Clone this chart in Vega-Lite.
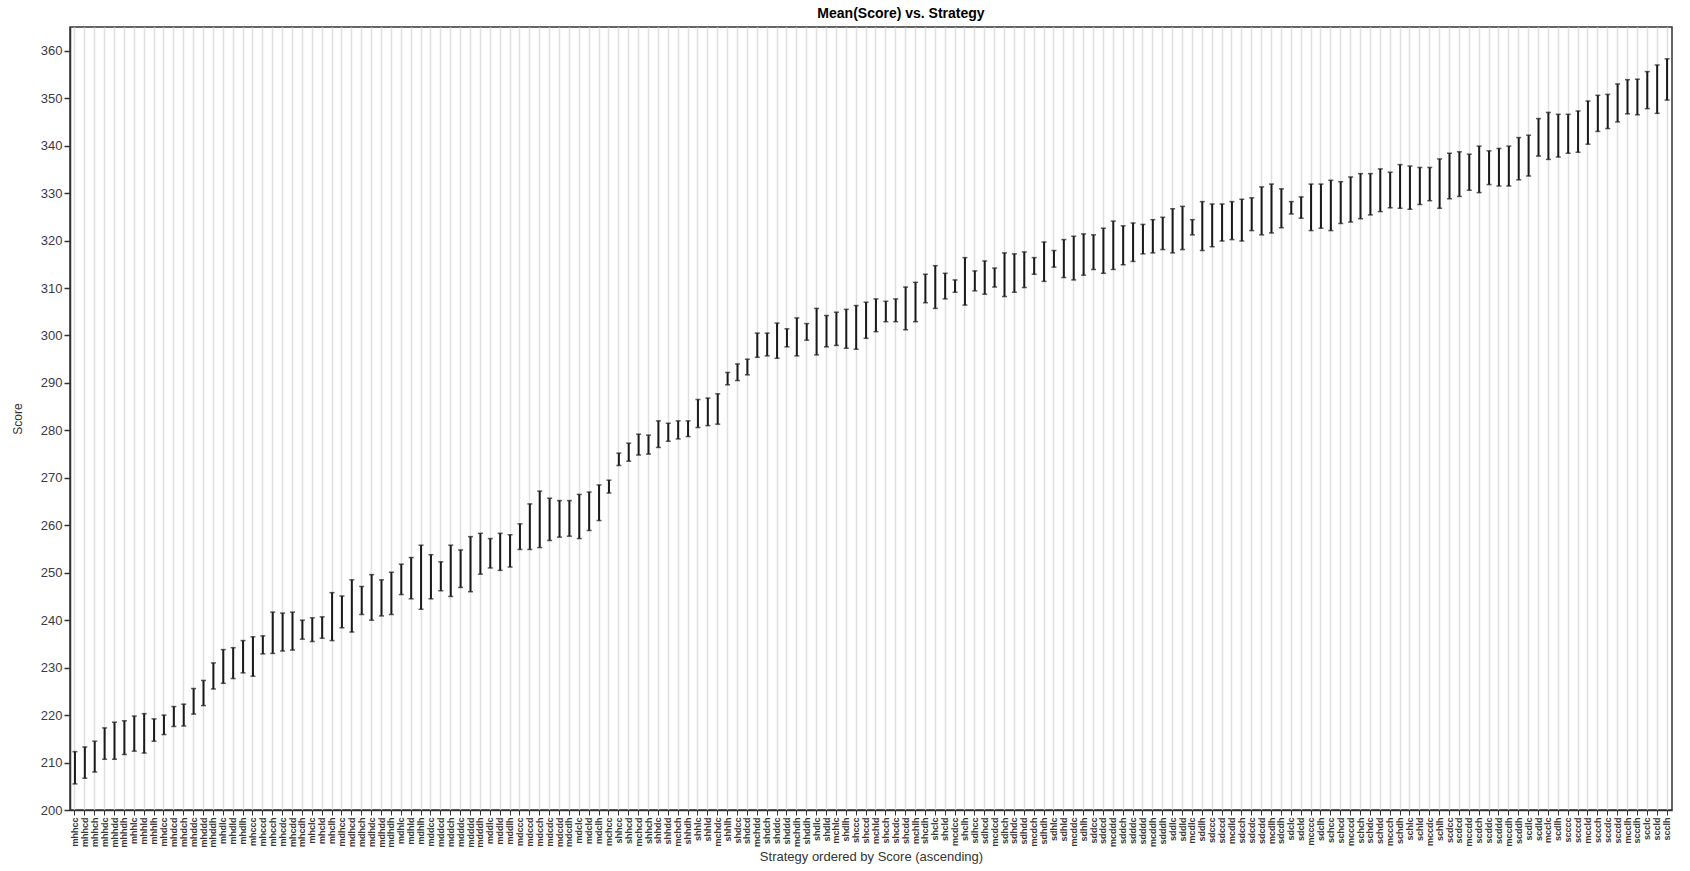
{
  "$schema": "https://vega.github.io/schema/vega-lite/v6.json",
  "width": 1602,
  "height": 783,
  "autosize": "none",
  "padding": {"left": 70, "top": 27, "right": 18, "bottom": 61},
  "background": "white",
  "title": {"text": "Mean(Score) vs. Strategy", "fontSize": 14, "fontWeight": "bold", "font": "Liberation Sans", "color": "#000000", "offset": 6, "dx": 30},
  "config": {"view": {"stroke": "#333333", "strokeWidth": 1.5}, "font": "Liberation Sans"},
  "data": {"values": [
    {"s": "mhhcc", "lo": 205.5, "hi": 212.3},
    {"s": "mhhcd", "lo": 206.7, "hi": 213.3},
    {"s": "mhhch", "lo": 208.0, "hi": 214.5},
    {"s": "mhhdc", "lo": 210.7, "hi": 217.3},
    {"s": "mhhdd", "lo": 210.7, "hi": 218.5},
    {"s": "mhhdh", "lo": 211.7, "hi": 218.8},
    {"s": "mhhlc", "lo": 212.4, "hi": 219.8},
    {"s": "mhhld", "lo": 212.0, "hi": 220.3},
    {"s": "mhhlh", "lo": 214.5, "hi": 219.2},
    {"s": "mhdcc", "lo": 215.9, "hi": 220.0},
    {"s": "mhdcd", "lo": 217.6, "hi": 221.8},
    {"s": "mhdch", "lo": 217.7, "hi": 222.3},
    {"s": "mhddc", "lo": 220.2, "hi": 225.6},
    {"s": "mhddd", "lo": 222.0, "hi": 227.3},
    {"s": "mhddh", "lo": 225.5, "hi": 231.0},
    {"s": "mhdlc", "lo": 226.7, "hi": 233.8},
    {"s": "mhdld", "lo": 227.7, "hi": 234.2},
    {"s": "mhdlh", "lo": 228.9, "hi": 235.7},
    {"s": "mhccc", "lo": 228.2, "hi": 236.5},
    {"s": "mhccd", "lo": 232.9, "hi": 236.7},
    {"s": "mhcch", "lo": 233.0, "hi": 241.7},
    {"s": "mhcdc", "lo": 233.5, "hi": 241.5},
    {"s": "mhcdd", "lo": 233.7, "hi": 241.7},
    {"s": "mhcdh", "lo": 236.0, "hi": 240.0},
    {"s": "mhclc", "lo": 235.5, "hi": 240.5},
    {"s": "mhcld", "lo": 236.2, "hi": 240.7},
    {"s": "mhclh", "lo": 235.7, "hi": 245.8},
    {"s": "mdhcc", "lo": 238.4, "hi": 245.1},
    {"s": "mdhcd", "lo": 237.5, "hi": 248.5},
    {"s": "mdhch", "lo": 241.2, "hi": 247.1},
    {"s": "mdhdc", "lo": 240.0, "hi": 249.6},
    {"s": "mdhdd", "lo": 240.9, "hi": 248.5},
    {"s": "mdhdh", "lo": 241.2, "hi": 250.1},
    {"s": "mdhlc", "lo": 245.4, "hi": 251.8},
    {"s": "mdhld", "lo": 244.5, "hi": 253.2},
    {"s": "mdhlh", "lo": 242.3, "hi": 255.8},
    {"s": "mddcc", "lo": 244.5, "hi": 253.8},
    {"s": "mddcd", "lo": 246.2, "hi": 252.3},
    {"s": "mddch", "lo": 245.0, "hi": 255.8},
    {"s": "mdddc", "lo": 246.9, "hi": 254.8},
    {"s": "mdddd", "lo": 246.0, "hi": 257.6},
    {"s": "mdddh", "lo": 249.7, "hi": 258.3},
    {"s": "mddlc", "lo": 251.0, "hi": 257.2},
    {"s": "mddld", "lo": 250.5, "hi": 258.3},
    {"s": "mddlh", "lo": 251.2, "hi": 258.0},
    {"s": "mdccc", "lo": 254.9, "hi": 260.3},
    {"s": "mdccd", "lo": 254.9, "hi": 264.5},
    {"s": "mdcch", "lo": 255.3, "hi": 267.2},
    {"s": "mdcdc", "lo": 256.8, "hi": 265.7},
    {"s": "mdcdd", "lo": 257.5, "hi": 265.2},
    {"s": "mdcdh", "lo": 257.7, "hi": 265.2},
    {"s": "mdclc", "lo": 257.2, "hi": 266.5},
    {"s": "mdcld", "lo": 258.9, "hi": 267.0},
    {"s": "mdclh", "lo": 261.0, "hi": 268.5},
    {"s": "mchcc", "lo": 266.8, "hi": 269.5},
    {"s": "shhcc", "lo": 272.6, "hi": 275.2},
    {"s": "shhcd", "lo": 273.5, "hi": 277.3},
    {"s": "mchcd", "lo": 274.8, "hi": 279.2},
    {"s": "shhch", "lo": 275.0, "hi": 279.0},
    {"s": "shhdc", "lo": 276.4, "hi": 282.0},
    {"s": "shhdd", "lo": 277.7, "hi": 281.5},
    {"s": "mchch", "lo": 278.2, "hi": 282.0},
    {"s": "shhdh", "lo": 278.7, "hi": 282.0},
    {"s": "shhlc", "lo": 280.6, "hi": 286.5},
    {"s": "shhld", "lo": 281.0, "hi": 286.8},
    {"s": "mchdc", "lo": 281.3, "hi": 287.7},
    {"s": "shhlh", "lo": 289.6, "hi": 292.2},
    {"s": "shdcc", "lo": 290.5, "hi": 294.0},
    {"s": "shdcd", "lo": 291.7, "hi": 295.0},
    {"s": "mchdd", "lo": 295.4, "hi": 300.5},
    {"s": "shdch", "lo": 295.7, "hi": 300.5},
    {"s": "shddc", "lo": 295.2, "hi": 302.6},
    {"s": "shddd", "lo": 297.6, "hi": 301.4},
    {"s": "mchdh", "lo": 295.7, "hi": 303.7},
    {"s": "shddh", "lo": 299.0, "hi": 302.5},
    {"s": "shdlc", "lo": 295.9, "hi": 305.7},
    {"s": "shdld", "lo": 297.6, "hi": 304.2},
    {"s": "mchlc", "lo": 297.9, "hi": 304.9},
    {"s": "shdlh", "lo": 297.3, "hi": 305.5},
    {"s": "shccc", "lo": 297.1, "hi": 306.3},
    {"s": "shccd", "lo": 299.4, "hi": 307.0},
    {"s": "mchld", "lo": 300.8, "hi": 307.7},
    {"s": "shcch", "lo": 302.9, "hi": 307.2},
    {"s": "shcdc", "lo": 302.9, "hi": 307.7},
    {"s": "shcdd", "lo": 301.2, "hi": 310.2},
    {"s": "mchlh", "lo": 302.9, "hi": 311.2},
    {"s": "shcdh", "lo": 306.9, "hi": 312.9},
    {"s": "shclc", "lo": 305.7, "hi": 314.7},
    {"s": "shcld", "lo": 307.7, "hi": 313.1},
    {"s": "mcdcc", "lo": 309.1, "hi": 311.7},
    {"s": "shclh", "lo": 306.4, "hi": 316.4},
    {"s": "sdhcc", "lo": 309.4, "hi": 313.6},
    {"s": "sdhcd", "lo": 308.7, "hi": 315.7},
    {"s": "mcdcd", "lo": 310.2, "hi": 314.2},
    {"s": "sdhch", "lo": 308.2, "hi": 317.4},
    {"s": "sdhdc", "lo": 309.1, "hi": 317.2},
    {"s": "sdhdd", "lo": 310.1, "hi": 317.6},
    {"s": "mcdch", "lo": 312.9, "hi": 316.4},
    {"s": "sdhdh", "lo": 311.4, "hi": 319.7},
    {"s": "sdhlc", "lo": 314.4, "hi": 317.9},
    {"s": "sdhld", "lo": 312.2, "hi": 320.2},
    {"s": "mcddc", "lo": 311.7, "hi": 320.9},
    {"s": "sdhlh", "lo": 312.7, "hi": 321.4},
    {"s": "sddcc", "lo": 313.9, "hi": 321.2},
    {"s": "sddcd", "lo": 313.1, "hi": 322.6},
    {"s": "mcddd", "lo": 313.9, "hi": 324.1},
    {"s": "sddch", "lo": 314.9, "hi": 323.1},
    {"s": "sdddc", "lo": 315.6, "hi": 323.7},
    {"s": "sdddd", "lo": 317.2, "hi": 323.4},
    {"s": "mcddh", "lo": 317.4, "hi": 324.4},
    {"s": "sdddh", "lo": 318.1, "hi": 324.9},
    {"s": "sddlc", "lo": 317.4, "hi": 326.7},
    {"s": "sddld", "lo": 318.1, "hi": 327.2},
    {"s": "mcdlc", "lo": 321.2, "hi": 324.4},
    {"s": "sddlh", "lo": 317.9, "hi": 328.2},
    {"s": "sdccc", "lo": 318.7, "hi": 327.7},
    {"s": "sdccd", "lo": 319.9, "hi": 327.7},
    {"s": "mcdld", "lo": 320.2, "hi": 328.2},
    {"s": "sdcch", "lo": 319.9, "hi": 328.7},
    {"s": "sdcdc", "lo": 322.1, "hi": 329.0},
    {"s": "sdcdd", "lo": 321.2, "hi": 331.3},
    {"s": "mcdlh", "lo": 321.6, "hi": 331.9},
    {"s": "sdcdh", "lo": 322.7, "hi": 330.9},
    {"s": "sdclc", "lo": 325.6, "hi": 328.2},
    {"s": "sdcld", "lo": 324.7, "hi": 329.2},
    {"s": "mcccc", "lo": 322.1, "hi": 331.9},
    {"s": "sdclh", "lo": 322.6, "hi": 331.9},
    {"s": "schcc", "lo": 322.1, "hi": 332.7},
    {"s": "schcd", "lo": 323.6, "hi": 332.4},
    {"s": "mcccd", "lo": 323.9, "hi": 333.4},
    {"s": "schch", "lo": 324.6, "hi": 334.1},
    {"s": "schdc", "lo": 325.4, "hi": 334.1},
    {"s": "schdd", "lo": 326.1, "hi": 335.1},
    {"s": "mccch", "lo": 326.9, "hi": 334.4},
    {"s": "schdh", "lo": 326.8, "hi": 336.0},
    {"s": "schlc", "lo": 326.6, "hi": 335.7},
    {"s": "schld", "lo": 327.6, "hi": 335.4},
    {"s": "mccdc", "lo": 328.4, "hi": 335.4},
    {"s": "schlh", "lo": 326.8, "hi": 337.2},
    {"s": "scdcc", "lo": 328.8, "hi": 338.4},
    {"s": "scdcd", "lo": 329.3, "hi": 338.7},
    {"s": "mccdd", "lo": 330.6, "hi": 338.2},
    {"s": "scdch", "lo": 330.1, "hi": 339.9},
    {"s": "scddc", "lo": 331.8, "hi": 338.9},
    {"s": "scddd", "lo": 331.5, "hi": 339.4},
    {"s": "mccdh", "lo": 331.5, "hi": 339.9},
    {"s": "scddh", "lo": 332.8, "hi": 341.7},
    {"s": "scdlc", "lo": 333.6, "hi": 342.2},
    {"s": "scdld", "lo": 337.8, "hi": 345.7},
    {"s": "mcclc", "lo": 337.1, "hi": 347.0},
    {"s": "scdlh", "lo": 337.6, "hi": 346.6},
    {"s": "scccc", "lo": 338.4, "hi": 346.6},
    {"s": "scccd", "lo": 338.6, "hi": 347.3},
    {"s": "mccld", "lo": 340.3, "hi": 349.4},
    {"s": "sccch", "lo": 343.0, "hi": 350.6},
    {"s": "sccdc", "lo": 343.6, "hi": 350.8},
    {"s": "sccdd", "lo": 345.0, "hi": 353.0},
    {"s": "mcclh", "lo": 346.7, "hi": 353.9},
    {"s": "sccdh", "lo": 346.5, "hi": 354.0},
    {"s": "scclc", "lo": 347.8, "hi": 355.6},
    {"s": "sccld", "lo": 346.8, "hi": 357.0},
    {"s": "scclh", "lo": 349.6, "hi": 358.3}
  ]},
  "encoding": {
    "x": {
      "field": "s", "type": "nominal", "sort": null,
      "scale": {"paddingInner": 0, "paddingOuter": 0},
      "axis": {
        "title": "Strategy ordered by Score (ascending)",
        "titleFontSize": 13, "titleFontWeight": "normal", "titleColor": "#333333", "titlePadding": 4,
        "labelAngle": -90, "labelFontSize": 9, "labelFontWeight": "bold", "labelColor": "#333333",
        "labelOverlap": false, "labelBound": false, "labelPadding": 2,
        "ticks": true, "tickSize": 5, "tickColor": "#333333", "tickWidth": 1,
        "grid": true, "gridColor": "#e0e0e0", "gridWidth": 1.5,
        "domainColor": "#333333", "domainWidth": 1.5
      }
    }
  },
  "layer": [
    {
      "mark": {"type": "rule", "color": "#1a1a1a", "strokeWidth": 2},
      "encoding": {
        "y": {
          "field": "lo", "type": "quantitative",
          "scale": {"domain": [200, 365], "nice": false, "zero": false},
          "axis": {
            "title": "Score", "titleFontSize": 12, "titleFontWeight": "normal", "titleColor": "#333333", "titlePadding": 16,
            "values": [200, 205, 210, 215, 220, 225, 230, 235, 240, 245, 250, 255, 260, 265, 270, 275, 280, 285, 290, 295, 300, 305, 310, 315, 320, 325, 330, 335, 340, 345, 350, 355, 360, 365],
            "labelExpr": "datum.value % 10 === 0 ? datum.label : ''",
            "labelFontSize": 13, "labelColor": "#3a3a4a", "labelPadding": 2,
            "tickSize": {"condition": {"test": "datum.value % 10 === 0", "value": 6}, "value": 3},
            "tickColor": "#333333", "tickWidth": 1.5,
            "grid": false, "domainColor": "#333333", "domainWidth": 1.5
          }
        },
        "y2": {"field": "hi"}
      }
    },
    {
      "mark": {"type": "tick", "color": "#1a1a1a", "size": 5, "thickness": 1.5},
      "encoding": {"y": {"field": "lo", "type": "quantitative"}}
    },
    {
      "mark": {"type": "tick", "color": "#1a1a1a", "size": 5, "thickness": 1.5},
      "encoding": {"y": {"field": "hi", "type": "quantitative"}}
    }
  ]
}
